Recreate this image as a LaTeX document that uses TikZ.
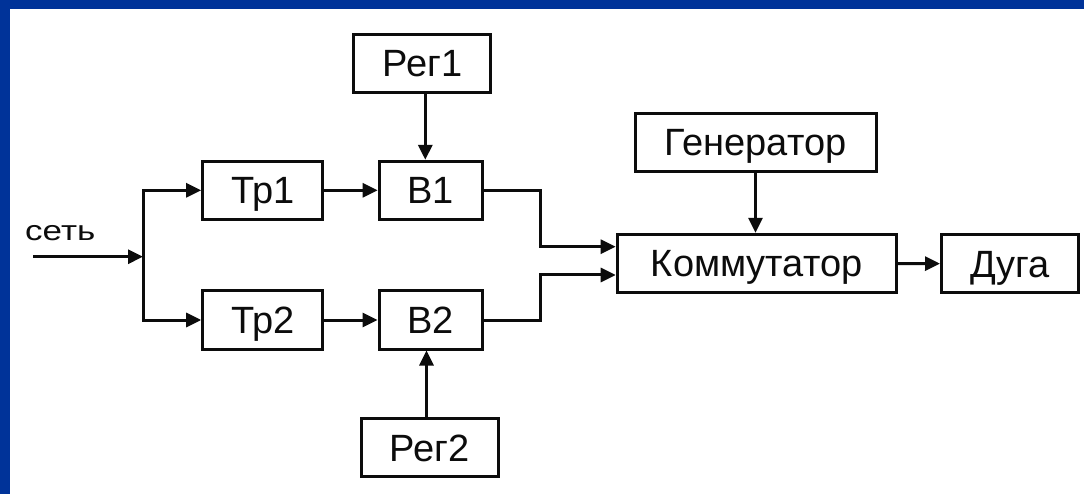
\documentclass[tikz,border=0pt]{standalone}
\usepackage{fontspec}
\setmainfont{Liberation Sans}
\usetikzlibrary{arrows.meta,calc}
\definecolor{slideblue}{RGB}{0,51,153}
\definecolor{ink}{RGB}{12,12,12}

\begin{document}
\begin{tikzpicture}[x=1pt,y=-1pt,
  blk/.style={draw=ink, text=ink, line width=3pt, minimum height=58pt,
    inner sep=0pt, font=\fontsize{38}{38}\selectfont,
    text height=27pt, text depth=0pt},
  wire/.style={draw=ink, line width=3pt},
  arr/.style={wire, -{Triangle[length=15pt,width=14pt]}}]

% slide frame
\fill[slideblue] (0,0) rectangle (1084,494);
\fill[white] (10,9) rectangle (1084,494);
\useasboundingbox (0,0) rectangle (1084,494);

% blocks
\node[blk, minimum width=120pt] (tr1) at (262.7,190.3) {Тр1};
\node[blk, minimum width=120pt] (tr2) at (262.7,320) {Тр2};
\node[blk, minimum width=103pt] (b1) at (430.7,190.3) {В1};
\node[blk, minimum width=103pt] (b2) at (430.5,320) {В2};
\node[blk, minimum width=137pt] (reg1) at (422.3,63.3) {Рег1};
\node[blk, minimum width=137pt] (reg2) at (429.5,447.5) {Рег2};
\node[blk, minimum width=241pt] (gen) at (755.5,142.2) {Генератор};
\node[blk, minimum width=279pt] (komm) at (756.7,263.3) {Коммутатор};
\node[blk, minimum width=137pt] (arc) at (1010,263.8) {Дуга};

% input label
\node[text=ink, font=\fontsize{28}{28}\selectfont, anchor=base west, inner sep=0pt]
  (set) at (25,241) {\scalebox{1.25}[1]{сеть}};

% helper points
\coordinate (in) at (33,256.7);
\coordinate (j) at (143,256.7);
\coordinate (xbus) at (540,0);
\coordinate (k1) at ($(komm.west)+(0,-16.6)$);
\coordinate (k2) at ($(komm.west)+(0,11.7)$);
\coordinate (r1) at ($(reg1.south)+(3,0)$);
\coordinate (r2) at ($(reg2.north)+(-3,0)$);

% mains input and split
\draw[arr] (in) -- (j);
\draw[arr] (j) |- (tr1);
\draw[arr] (j) |- (tr2);

% transformers to rectifiers
\draw[arr] (tr1) -- (b1);
\draw[arr] (tr2) -- (b2);

% regulators
\draw[arr] (r1) -- (r1 |- b1.north);
\draw[arr] (r2) -- (r2 |- b2.south);

% rectifiers to switch
\draw[arr] (b1.east) -| (k1 -| xbus) -- (k1);
\draw[arr] (b2.east) -| (k2 -| xbus) -- (k2);

% generator and arc
\draw[arr] (gen.south) -- (gen.south |- komm.north);
\draw[arr] (komm) -- (arc);
\end{tikzpicture}
\end{document}
